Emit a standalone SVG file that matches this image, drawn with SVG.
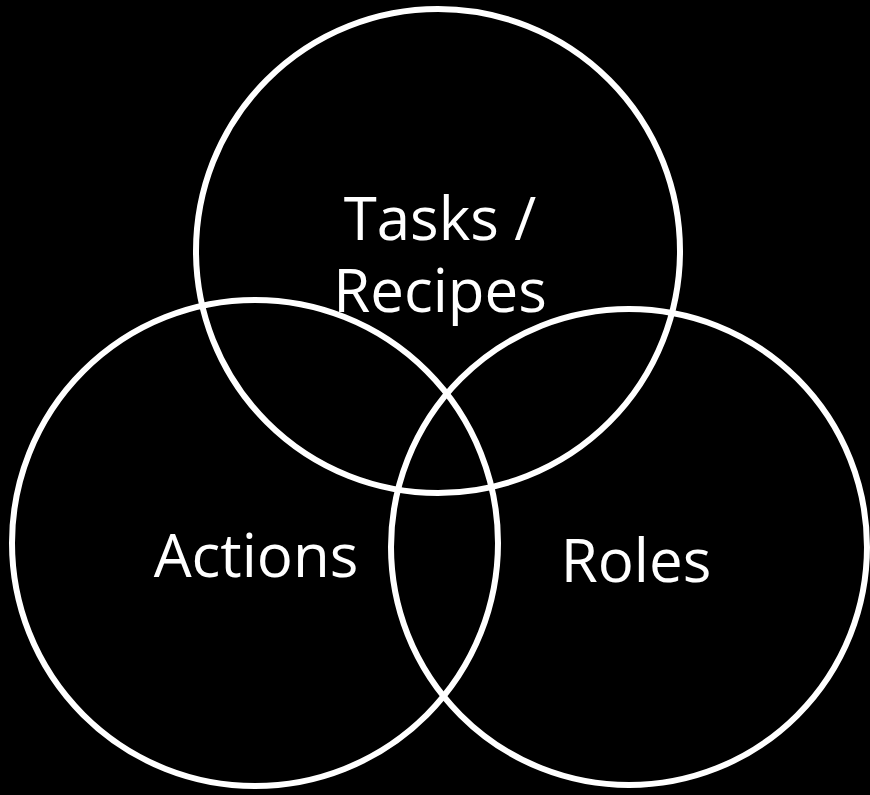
<svg xmlns="http://www.w3.org/2000/svg" width="870" height="795" viewBox="0 0 870 795">
<style>
.c{fill:none;stroke:#fff;stroke-width:6}
.t{fill:#fff;font-family:"Open Sans","Noto Sans",sans-serif;font-size:60px;text-anchor:middle}
</style>
<rect width="870" height="795" fill="#000"/>
<g id="tasks"><circle class="c" cx="438" cy="251" r="242"/><text class="t" x="440" y="240">Tasks /</text><text class="t" x="440" y="312">Recipes</text></g>
<g id="actions"><circle class="c" cx="255" cy="543" r="243"/><text class="t" x="256" y="577">Actions</text></g>
<g id="roles"><circle class="c" cx="629" cy="547" r="238"/><text class="t" x="636" y="582">Roles</text></g>
</svg>
